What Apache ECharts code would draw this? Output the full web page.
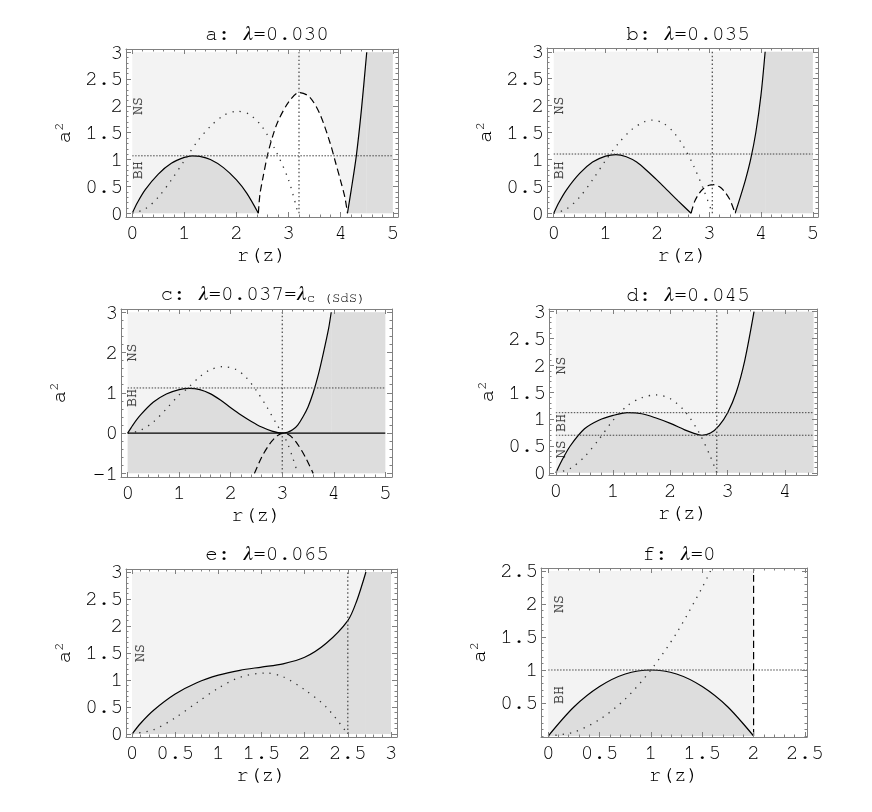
<!DOCTYPE html>
<html>
<head>
<meta charset="utf-8">
<script src="https://cdn.jsdelivr.net/npm/echarts@6/dist/echarts.min.js"></script>
<style>html,body{margin:0;background:#fff}#chart{width:872px;height:812px}</style>
</head>
<body>
<div id="chart"></div>
<script>
// curve samples, [r, a^2]
// a: lambda = 0.030
const aSolid1 = [[0,0],[0.1,0.2],[0.25,0.44],[0.5,0.73],[0.75,0.93],[1,1.04],[1.15,1.07],[1.3,1.06],[1.5,1.0],[1.75,0.85],[2,0.62],[2.2,0.37],[2.42,0]]
const aSolid2 = [[4.13,0],[4.2,0.42],[4.3,1.07],[4.4,1.95],[4.5,3]]
const aDashed = [[2.42,0],[2.45,0.35],[2.5,0.62],[2.6,1.1],[2.7,1.45],[2.8,1.72],[3,2.07],[3.2,2.25],[3.4,2.17],[3.6,1.85],[3.8,1.3],[3.9,0.95],[4,0.6],[4.08,0.3],[4.13,0]]
const aDotted = [[0,0],[0.25,0.08],[0.5,0.3],[0.75,0.62],[1,0.98],[1.25,1.34],[1.5,1.62],[1.75,1.82],[2,1.9],[2.25,1.84],[2.5,1.6],[2.75,1.17],[3,0.62],[3.18,0]]
const aGuideH = [1.07]
const aGuideV = [3.2]
const aText = [[0.1,2.0,'NS'],[0.1,0.8,'BH']]

// b: lambda = 0.035
const bSolid1 = [[0,0],[0.1,0.2],[0.25,0.44],[0.5,0.74],[0.75,0.95],[1,1.06],[1.2,1.09],[1.4,1.05],[1.6,0.95],[1.8,0.79],[2,0.61],[2.2,0.42],[2.4,0.23],[2.65,0]]
const bSolid2 = [[3.5,0],[3.6,0.3],[3.7,0.62],[3.8,1],[3.9,1.5],[4,2.2],[4.08,3]]
const bDashed = [[2.65,0],[2.72,0.22],[2.8,0.36],[2.9,0.47],[3,0.52],[3.08,0.53],[3.2,0.49],[3.3,0.4],[3.4,0.25],[3.5,0]]
const bDotted = [[0,0],[0.25,0.08],[0.5,0.3],[0.75,0.62],[1,0.98],[1.25,1.3],[1.5,1.55],[1.75,1.7],[1.9,1.73],[2.1,1.68],[2.3,1.52],[2.5,1.25],[2.7,0.88],[2.9,0.42],[3.06,0]]
const bGuideH = [1.1]
const bGuideV = [3.06]
const bText = [[0.1,2.0,'NS'],[0.1,0.8,'BH']]

// c: lambda = 0.037 = lambda_c(SdS)
const cSolid = [[0,0],[0.1,0.2],[0.25,0.45],[0.5,0.77],[0.75,0.97],[1,1.08],[1.2,1.11],[1.4,1.08],[1.6,0.98],[1.8,0.82],[2,0.63],[2.2,0.45],[2.4,0.29],[2.6,0.15],[2.8,0.05],[3,0],[3.1,0.02],[3.2,0.08],[3.3,0.2],[3.4,0.4],[3.5,0.65],[3.6,1],[3.7,1.45],[3.8,2],[3.9,2.6],[3.95,3]]
const cDashed = [[2.46,-1],[2.6,-0.6],[2.75,-0.28],[2.9,-0.07],[3.02,0],[3.15,-0.06],[3.3,-0.28],[3.45,-0.6],[3.6,-1]]
const cDotted = [[0,0],[0.25,0.07],[0.5,0.28],[0.75,0.6],[1,0.95],[1.15,1.1],[1.4,1.4],[1.6,1.57],[1.85,1.65],[2.1,1.58],[2.3,1.38],[2.5,1.05],[2.7,0.65],[2.9,0.2],[3,0],[3.1,-0.25],[3.2,-0.6],[3.3,-1]]
const cGuideH = [1.12]
const cGuideV = [3]
const cText = [[0.08,2.0,'NS'],[0.08,0.87,'BH']]

// d: lambda = 0.045
const dSolid = [[0,0],[0.1,0.22],[0.25,0.5],[0.5,0.82],[0.75,0.98],[1,1.07],[1.25,1.12],[1.5,1.1],[1.75,1.02],[2,0.92],[2.25,0.8],[2.4,0.74],[2.55,0.7],[2.7,0.74],[2.85,0.88],[3,1.12],[3.15,1.5],[3.3,2.1],[3.46,3]]
const dDotted = [[0,0],[0.25,0.08],[0.5,0.3],[0.75,0.62],[1,0.98],[1.25,1.25],[1.5,1.4],[1.75,1.45],[2,1.38],[2.25,1.15],[2.5,0.75],[2.7,0.3],[2.81,0]]
const dGuideH = [1.12, 0.7]
const dGuideV = [2.81]
const dText = [[0.08,2.0,'NS'],[0.08,0.93,'BH'],[0.08,0.44,'NS']]

// e: lambda = 0.065
const eSolid = [[0,0],[0.1,0.2],[0.25,0.44],[0.5,0.74],[0.75,0.95],[1,1.09],[1.25,1.18],[1.5,1.24],[1.75,1.3],[2,1.42],[2.25,1.68],[2.5,2.1],[2.6,2.45],[2.71,3]]
const eDotted = [[0,0],[0.25,0.08],[0.5,0.3],[0.75,0.58],[1,0.85],[1.25,1.05],[1.55,1.13],[1.75,1.06],[2,0.82],[2.25,0.5],[2.5,0]]
const eGuideH = []
const eGuideV = [2.5]
const eText = [[0.09,1.5,'NS']]

// f: lambda = 0
const fSolid = [[0,0],[0.25,0.44],[0.5,0.75],[0.75,0.94],[1,1],[1.25,0.94],[1.5,0.75],[1.75,0.44],[2,0]]
const fDotted = [[0,0],[0.25,0.06],[0.5,0.25],[0.75,0.56],[1,1],[1.25,1.56],[1.5,2.25],[1.58,2.5]]
const fGuideH = [1]
const fDashedV = [2]
const fText = [[0.1,2.0,'NS'],[0.1,0.62,'BH']]

// tick labels
const ticks5 = [0,1,2,3,4,5]
const ticks4 = [0,1,2,3,4]
const ticksHalf3 = [0,0.5,1,1.5,2,2.5,3]
const ticksC = [-1,0,1,2,3]
const ticksF = [0.5,1,1.5,2,2.5]
const ticksFx = [0,0.5,1,1.5,2,2.5]

const LIGHT = '#f3f3f3', DARK = '#dddddd', FRAME = '#808080'
const MONO = 'FreeMono'
const GREEK = "FreeSerif, 'Liberation Serif', serif"

const panels = [
  {box:{left:126,top:49,width:272,height:168}, xr:[-0.12,5.1], yr:[-0.07,3.06], xt:ticks5, yt:ticksHalf3, xm:0.2, ym:0.1,
   title:'a: {l|λ}=0.030', tx:262, ty:18, solid:[aSolid1,aSolid2], dashed:[aDashed], dashFill:'#fff', dotted:[aDotted],
   light:[[0,0,5,3]], dark:[[4.5,0,5,3]], gh:aGuideH, gv:aGuideV, vr:[0,3], hEnd:5, text:aText, zero:false},
  {box:{left:547,top:48,width:271,height:169}, xr:[-0.13,5.1], yr:[-0.07,3.07], xt:ticks5, yt:ticksHalf3, xm:0.2, ym:0.1,
   title:'b: {l|λ}=0.035', tx:683, ty:18, solid:[bSolid1,bSolid2], dashed:[bDashed], dashFill:'#fff', dotted:[bDotted],
   light:[[0,0,5,3]], dark:[[4.08,0,5,3]], gh:bGuideH, gv:bGuideV, vr:[0,3], hEnd:5, text:bText, zero:false},
  {box:{left:121,top:309,width:271,height:168}, xr:[-0.13,5.13], yr:[-1.09,3.08], xt:ticks5, yt:ticksC, xm:0.2, ym:0.2,
   title:'c: {l|λ}=0.037={l|λ}{sub|c (SdS)}', tx:258, ty:278, solid:[cSolid], dashed:[cDashed], dashFill:null, dotted:[cDotted],
   light:[[0,-1,5,3]], dark:[[0,-1,5,0],[3.95,0,5,3]], gh:cGuideH, gv:cGuideV, vr:[-1,3], hEnd:5, text:cText, zero:true},
  {box:{left:549,top:309,width:268,height:166}, xr:[-0.12,4.56], yr:[-0.04,3.05], xt:ticks4, yt:ticksHalf3, xm:0.2, ym:0.1,
   title:'d: {l|λ}=0.045', tx:683, ty:279, solid:[dSolid], dashed:[], dashFill:null, dotted:[dDotted],
   light:[[0,0,4.5,3]], dark:[[3.46,0,4.5,3]], gh:dGuideH, gv:dGuideV, vr:[0,3], hEnd:4.5, text:dText, zero:false},
  {box:{left:126,top:569,width:271,height:168}, xr:[-0.07,3.07], yr:[-0.055,3.055], xt:ticksHalf3, yt:ticksHalf3, xm:0.1, ym:0.1,
   title:'e: {l|λ}=0.065', tx:262, ty:538, solid:[eSolid], dashed:[], dashFill:null, dotted:[eDotted],
   light:[[0,0,3,3]], dark:[[2.71,0,3,3]], gh:eGuideH, gv:eGuideV, vr:[0,3], hEnd:3, text:eText, zero:false},
  {box:{left:541,top:568,width:266,height:169}, xr:[-0.07,2.52], yr:[-0.015,2.545], xt:ticksFx, yt:ticksF, xm:0.1, ym:0.1,
   title:'f: {l|λ}=0', tx:674, ty:538, solid:[fSolid], dashed:[], dashFill:null, dotted:[fDotted],
   light:[[0,0,2,2.5]], dark:[], gh:fGuideH, gv:[], vr:[0,2.5], hEnd:2.52, text:fText, zero:false, dashV:fDashedV}
]

const minorList = (r, step) => {
  const out = []
  for (let k = Math.ceil(r[0] / step - 1e-9); k * step <= r[1] + 1e-9; k++) out.push(+(k * step).toFixed(4))
  return out
}
const fmt = v => v < 0 ? '\u2212' + (-v) : String(v)

const option = { animation: false, backgroundColor: '#fff', title: [], grid: [], xAxis: [], yAxis: [], series: [] }

panels.forEach((p, i) => {
  option.grid.push(Object.assign({ show: false }, p.box))
  option.title.push({
    text: p.title, left: p.tx, top: p.ty, textAlign: 'center',
    textStyle: {
      fontFamily: MONO, fontSize: 21, fontWeight: 'normal', color: '#000', lineHeight: 22,
      rich: {
        l: { fontFamily: GREEK, fontStyle: 'italic', fontSize: 21, color: '#000' },
        sub: { fontFamily: MONO, fontSize: 14, color: '#000', verticalAlign: 'bottom', lineHeight: 14 }
      }
    }
  })
  const xi = option.xAxis.length, yi = option.yAxis.length
  const base = (r) => ({
    type: 'value', gridIndex: i, min: r[0], max: r[1], z: 10,
    splitLine: { show: false }, axisLabel: { show: false }, axisTick: { show: false },
    axisLine: { show: false, onZero: false }
  })
  const tickSet = (vals, len) => ({ show: true, inside: true, length: len, customValues: vals, lineStyle: { color: FRAME, width: 1 } })
  const label = (vals) => ({ show: true, customValues: vals, formatter: fmt, fontFamily: MONO, fontSize: 21, color: '#000' })
  const frameLine = { show: true, onZero: false, lineStyle: { color: FRAME, width: 1 } }

  // bottom / top frame
  option.xAxis.push(Object.assign(base(p.xr), { position: 'bottom', axisLine: frameLine, axisTick: tickSet(p.xt, 5),
    axisLabel: Object.assign(label(p.xt), { margin: 5 }),
    name: 'r(z)', nameLocation: 'middle', nameGap: 26, nameTextStyle: { fontFamily: MONO, fontSize: 21, color: '#000' } }))
  option.xAxis.push(Object.assign(base(p.xr), { position: 'bottom', axisTick: tickSet(minorList(p.xr, p.xm), 2.5) }))
  option.xAxis.push(Object.assign(base(p.xr), { position: 'top', axisLine: frameLine, axisTick: tickSet(p.xt, 5) }))
  option.xAxis.push(Object.assign(base(p.xr), { position: 'top', axisTick: tickSet(minorList(p.xr, p.xm), 2.5) }))
  // left / right frame
  option.yAxis.push(Object.assign(base(p.yr), { position: 'left', axisLine: frameLine, axisTick: tickSet(p.yt, 5),
    axisLabel: Object.assign(label(p.yt), { margin: 3 }),
    name: 'a{s|2}', nameLocation: 'middle', nameGap: 52, nameRotate: 90,
    nameTextStyle: { fontFamily: MONO, fontSize: 21, color: '#000', rich: { s: { fontFamily: MONO, fontSize: 13, color: '#000', verticalAlign: 'top' } } } }))
  option.yAxis.push(Object.assign(base(p.yr), { position: 'left', axisTick: tickSet(minorList(p.yr, p.ym), 2.5) }))
  option.yAxis.push(Object.assign(base(p.yr), { position: 'right', axisLine: frameLine, axisTick: tickSet(p.yt, 5) }))
  option.yAxis.push(Object.assign(base(p.yr), { position: 'right', axisTick: tickSet(minorList(p.yr, p.ym), 2.5) }))

  const ax = { xAxisIndex: xi, yAxisIndex: yi, silent: true }
  const rects = (data, color, z) => Object.assign({
    type: 'custom', data, z, clip: false,
    renderItem: (params, api) => {
      const p0 = api.coord([api.value(0), api.value(1)])
      const p1 = api.coord([api.value(2), api.value(3)])
      return { type: 'rect', shape: { x: p0[0], y: p1[1], width: p1[0] - p0[0], height: p0[1] - p1[1] }, style: { fill: color } }
    }
  }, ax)
  const line = (data, z, style, area) => Object.assign({
    type: 'line', data, z, symbol: 'none', smooth: 0.3,
    lineStyle: Object.assign({ color: '#000', width: 1.2 }, style),
    areaStyle: area ? { color: area, opacity: 1 } : undefined
  }, ax)

  option.series.push(rects(p.light, LIGHT, 1))
  if (p.dark.length) option.series.push(rects(p.dark, DARK, 2))
  p.solid.forEach(d => option.series.push(line(d, 3, {}, DARK)))
  p.dashed.forEach(d => option.series.push(line(d, 4, { type: [7, 4] }, p.dashFill)))
  if (p.zero) option.series.push(line([[0, 0], [5, 0]], 6, { width: 1.3 }))
  p.dotted.forEach(d => option.series.push(line(d, 5, { type: [1.3, 6], width: 1.3, color: '#333' })))
  p.gh.forEach(h => option.series.push(line([[0, h], [p.hEnd, h]], 5, { type: [1.5, 1.5], width: 1, color: '#444' })))
  p.gv.forEach(v => option.series.push(line([[v, p.vr[0]], [v, p.vr[1]]], 5, { type: [1.5, 2.5], width: 1.2, color: '#444' })))
  if (p.dashV) p.dashV.forEach(v => option.series.push(line([[v, 0], [v, p.yr[1]]], 5, { type: [7, 4], width: 1.2 })))
  option.series.push(Object.assign({
    type: 'scatter', z: 7, symbolSize: 1, itemStyle: { color: 'rgba(0,0,0,0)' },
    data: p.text.map(t => ({ value: [t[0], t[1]], name: t[2] })),
    label: { show: true, position: 'inside', rotate: 90, formatter: '{b}', fontFamily: MONO, fontSize: 15, color: '#000', textBorderColor: '#555', textBorderWidth: 0.3 }
  }, ax))
})

echarts.init(document.getElementById('chart'), null, { renderer: 'canvas' }).setOption(option)
</script>
</body>
</html>
